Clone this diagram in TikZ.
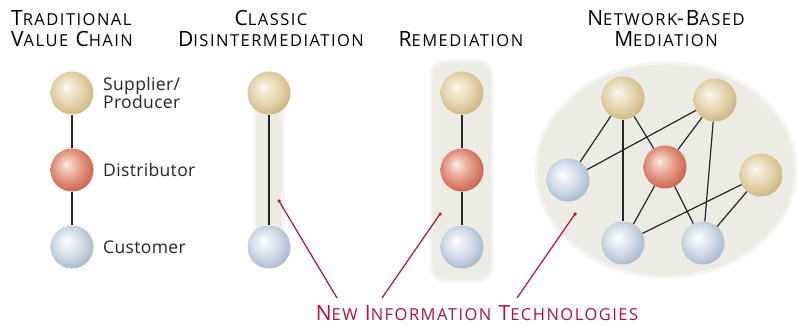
\documentclass[tikz,border=0pt]{standalone}
\usepackage{fontspec}
\setmainfont{Open Sans}
\newfontfamily\ttlfont[LetterSpace=9]{Open Sans}
\newfontfamily\lblfont[LetterSpace=2]{Open Sans}
\definecolor{tanC}{HTML}{F5F0E0}
\definecolor{tanM}{HTML}{E4D5AE}
\definecolor{tanE}{HTML}{C9B27A}
\definecolor{redC}{HTML}{F6DAD0}
\definecolor{redM}{HTML}{E29480}
\definecolor{redE}{HTML}{C85A43}
\definecolor{bluC}{HTML}{F6F8FB}
\definecolor{bluM}{HTML}{CFDAE6}
\definecolor{bluE}{HTML}{A2B4CA}
\definecolor{bgc}{HTML}{ECEBE4}
\definecolor{crim}{HTML}{B3103C}
\pgfdeclareradialshading{tanball}{\pgfqpoint{-7bp}{7bp}}{color(0bp)=(white); color(3bp)=(tanC); color(17bp)=(tanM); color(31bp)=(tanE); color(50bp)=(tanE)}
\pgfdeclareradialshading{redball}{\pgfqpoint{-7bp}{7bp}}{color(0bp)=(white); color(3bp)=(redC); color(17bp)=(redM); color(31bp)=(redE); color(50bp)=(redE)}
\pgfdeclareradialshading{bluball}{\pgfqpoint{-7bp}{7bp}}{color(0bp)=(white); color(3bp)=(bluC); color(17bp)=(bluM); color(31bp)=(bluE); color(50bp)=(bluE)}
\newcommand\smc{\fontsize{16.5}{20}\selectfont}
\tikzset{
  ball/.style={circle, minimum size=43pt, inner sep=0pt},
  tanb/.style={ball, shading=tanball},
  redb/.style={ball, shading=redball},
  blub/.style={ball, shading=bluball},
  edge/.style={line width=1.2pt, draw=black!85},
  title/.style={font=\ttlfont\fontsize{21}{20}\selectfont, text=black, inner sep=0pt, anchor=base},
  lbl/.style={font=\lblfont\fontsize{17.5}{18}\selectfont, text=black!85, inner sep=0pt, anchor=base west},
  pointer/.style={draw=crim, line width=1.2pt},
  dotc/.style={circle, fill=crim, inner sep=0pt, minimum size=3.5pt},
  bgfill/.style={fill=bgc, draw=bgc!55!white, line width=3pt}
}
\begin{document}
\begin{tikzpicture}[x=1pt,y=-1pt]
\useasboundingbox (0,0) rectangle (797,326);
% backgrounds
\fill[bgc!55!white] (253,108) rectangle (285,250);
\fill[bgc] (256,108) rectangle (282,250);
\path[bgfill, rounded corners=14pt] (431,61) rectangle (492,281);
\path[bgfill] (666,170) ellipse [x radius=130pt, y radius=107pt];
% titles
\node[title, anchor=base west] (t1a) at (11,26) {T{\smc RADITIONAL}};
\node[title, anchor=base west] (t1b) at (11,47) {V{\smc ALUE} C{\smc HAIN}};
\node[title] (t2a) at (271,26) {C{\smc LASSIC}};
\node[title] (t2b) at (271,47) {D{\smc ISINTERMEDIATION}};
\node[title] (t3) at (461,47) {R{\smc EMEDIATION}};
\node[title] (t4a) at (666,26) {N{\smc ETWORK}-B{\smc ASED}};
\node[title] (t4b) at (666,47) {M{\smc EDIATION}};
% column 1
\node[tanb] (s1) at (72,93) {};
\node[redb] (d1) at (72,170) {};
\node[blub] (c1) at (72,247) {};
\draw[edge] (s1) -- (d1);
\draw[edge] (d1) -- (c1);
\node[lbl] (ls1) at (103,90.5) {Supplier/};
\node[lbl] (ls2) at (103,109) {Producer};
\node[lbl] (ld) at (103,176.5) {Distributor};
\node[lbl] (lc) at (103,253) {Customer};
% column 2
\node[tanb] (s2) at (269,93) {};
\node[blub] (c2) at (269,247) {};
\draw[edge] (s2) -- (c2);
% column 3
\node[tanb] (s3) at (462,93) {};
\node[redb] (d3) at (462,170) {};
\node[blub] (c3) at (462,247) {};
\draw[edge] (s3) -- (d3);
\draw[edge] (d3) -- (c3);
% column 4
\node[tanb] (ntl) at (623,98) {};
\node[tanb] (ntr) at (715,100) {};
\node[redb] (nr) at (665,167) {};
\node[tanb] (nrt) at (761,175) {};
\node[blub] (nbl) at (568,180) {};
\node[blub] (nbb) at (623,243) {};
\node[blub] (nbr) at (703,243) {};
\draw[edge] (ntl) -- (nbl);
\draw[edge] (ntl) -- (nbb);
\draw[edge] (ntl) -- (nr);
\draw[edge] (ntr) -- (nbl);
\draw[edge] (ntr) -- (nr);
\draw[edge] (ntr) -- (nbr);
\draw[edge] (nr) -- (nbb);
\draw[edge] (nr) -- (nbr);
\draw[edge] (nrt) -- (nbb);
\draw[edge] (nrt) -- (nbr);
% pointers
\node[dotc] (p1) at (279,201) {};
\node[dotc] (p2) at (440,214) {};
\node[dotc] (p3) at (575,214) {};
\coordinate (q1) at (337,298);
\coordinate (q2) at (382,298);
\coordinate (q3) at (517,298);
\draw[pointer] (p1.center) -- (q1);
\draw[pointer] (p2.center) -- (q2);
\draw[pointer] (p3.center) -- (q3);
\node[title, text=crim] (nit) at (477,320) {N{\smc EW} I{\smc NFORMATION} T{\smc ECHNOLOGIES}};
\end{tikzpicture}
\end{document}
